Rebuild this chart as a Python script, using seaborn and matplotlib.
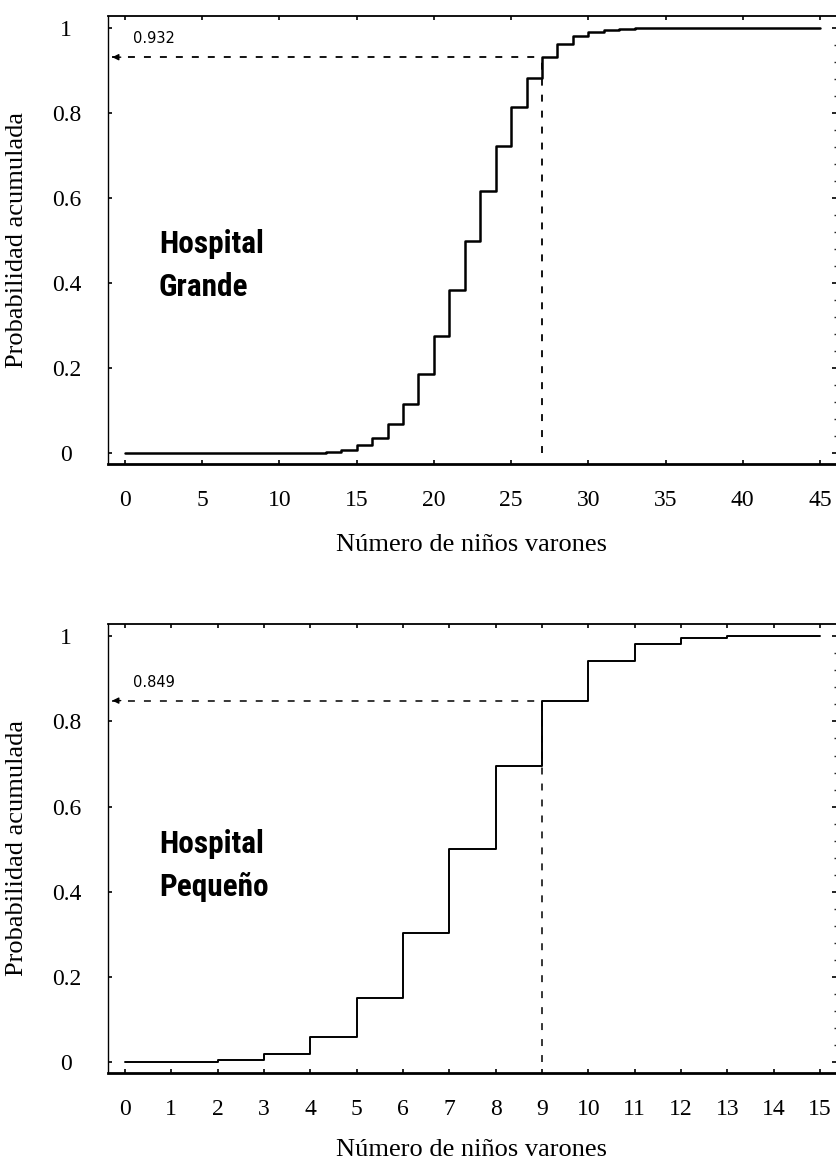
import matplotlib
matplotlib.use('Agg')
import matplotlib.pyplot as plt
import seaborn as sns
import pandas as pd
from matplotlib.ticker import MultipleLocator
from matplotlib import font_manager

sns.set_theme(style='white')
plt.rcParams['font.family'] = ['Liberation Serif', 'DejaVu Serif']
plt.rcParams['lines.scale_dashes'] = False

# ---- data ----
ninos_grande = list(range(0, 46))
prob_grande = [0.000] * 12 + [
    0.001, 0.003, 0.008, 0.018, 0.036, 0.068, 0.116, 0.186, 0.276, 0.383,
    0.500, 0.617, 0.724, 0.814, 0.884, 0.932, 0.964, 0.982, 0.992, 0.997,
    0.999] + [1.000] * 13
marca_grande = (27, 0.932)

ninos_peq = list(range(0, 16))
prob_peq = [0.000, 0.000, 0.004, 0.018, 0.059, 0.151, 0.304, 0.500,
            0.696, 0.849, 0.941, 0.982, 0.996, 1.000, 1.000, 1.000]
marca_peq = (9, 0.849)

xticks_grande = [0, 5, 10, 15, 20, 25, 30, 35, 40, 45]
xticks_peq = list(range(0, 16))
yticks = [0, 0.2, 0.4, 0.6, 0.8, 1]
ytick_labels = ['0', '0.2', '0.4', '0.6', '0.8', '1']

# choose a condensed bold sans for the panel titles
_names = {f.name for f in font_manager.fontManager.ttflist}
title_family = 'Roboto'
for cand in ['Liberation Sans Narrow', 'Roboto Condensed', 'DejaVu Sans Condensed']:
    if cand in _names:
        title_family = cand
        break

W, H = 836, 1165
fig = plt.figure(figsize=(W / 100, H / 100), dpi=100)
ax1 = fig.add_axes([108 / W, 1 - 464 / H, 728 / W, 448 / H])
ax2 = fig.add_axes([108 / W, 1 - 1073 / H, 728 / W, 449 / H])


def panel(ax, x, y, marca, xlim, xticks, lw, dlw, titulo, ty, xl_y):
    df = pd.DataFrame({'n': x, 'p': y})
    sns.lineplot(data=df, x='n', y='p', ax=ax, drawstyle='steps-post',
                 color='black', lw=lw, estimator=None)
    k, p = marca
    dash = (0, (5, 6.5))
    ax.plot([k, k], [0, p], ls=dash, color='black', lw=dlw)
    tip = xlim[0] + 0.25 * (0 - xlim[0])
    ax.plot([tip, k], [p, p], ls=dash, color='black', lw=dlw)
    ax.annotate('', xy=(tip, p), xytext=(tip + 0.5 * (0 - xlim[0]), p),
                arrowprops=dict(arrowstyle='-|>', color='black', lw=1.0,
                                mutation_scale=9, shrinkA=0, shrinkB=0))
    ax.text(0.034, p + 0.043, f'{p:.3f}',
            transform=ax.get_yaxis_transform(), ha='left', va='center',
            fontsize=10.5, family='DejaVu Sans', color='black')
    ax.text(0.070, ty, titulo, transform=ax.transAxes, ha='left', va='top',
            fontsize=22.5, fontweight='bold', family=title_family,
            linespacing=1.55, color='black')

    ax.set_xlim(*xlim)
    ax.set_ylim(-0.026, 1.029)
    ax.set_xticks(xticks, [str(t) for t in xticks], fontsize=17)
    ax.set_yticks(yticks, ytick_labels, fontsize=17, ha='center')
    ax.yaxis.set_minor_locator(MultipleLocator(0.04))
    ax.tick_params(axis='x', which='major', direction='in', top=True,
                   bottom=True, length=3, width=1.2, pad=19, colors='black')
    ax.tick_params(axis='y', which='major', direction='in', left=True,
                   right=True, length=3, width=1.2, pad=30, colors='black')
    ax.tick_params(axis='y', which='minor', direction='in', left=False,
                   right=True, length=1.5, width=1.0)
    ax.spines['right'].set_visible(False)
    ax.spines['top'].set_linewidth(1.3)
    ax.spines['left'].set_linewidth(1.0)
    ax.spines['bottom'].set_linewidth(2.0)
    for s in ax.spines.values():
        s.set_color('black')

    ax.set_xlabel('Número de niños varones', fontsize=19, color='black')
    ax.xaxis.set_label_coords(0.5, xl_y)
    ax.xaxis.label.set_va('center')
    ax.set_ylabel('Probabilidad acumulada', fontsize=19, color='black')
    ax.yaxis.set_label_coords(-0.125, 0.5)
    ax.yaxis.label.set_va('center')


panel(ax1, ninos_grande, prob_grande, marca_grande,
      (-1.10, 46.04), xticks_grande, 1.8, 1.3, 'Hospital\nGrande',
      0.524, (464 - 545) / 448)
panel(ax2, ninos_peq, prob_peq, marca_peq,
      (-0.367, 15.345), xticks_peq, 1.4, 1.1, 'Hospital\nPequeño',
      0.544, -(1150 - 1073) / 449)

fig.savefig('out.png', dpi=100)
